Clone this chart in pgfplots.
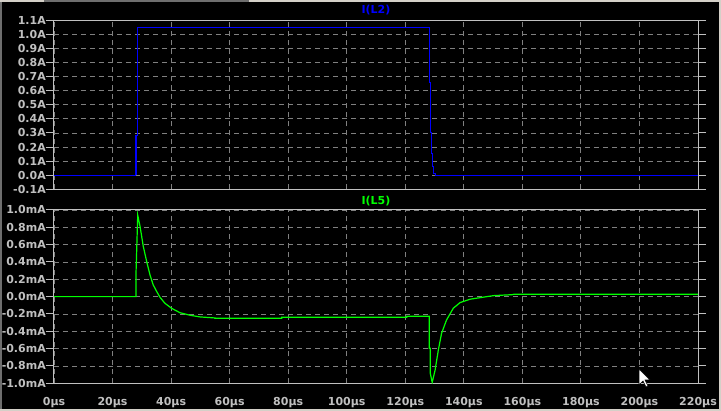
\documentclass[border=0pt]{standalone}
\usepackage{fontspec}
\setmainfont{DejaVu Sans}
\usepackage{pgfplots}
\pgfplotsset{compat=1.18}

\definecolor{framegray}{RGB}{192,192,192}
\definecolor{gridgray}{RGB}{128,128,128}
\definecolor{winbeige}{RGB}{212,208,200}
\definecolor{windark}{RGB}{110,110,110}
\definecolor{traceblue}{RGB}{0,0,255}
\definecolor{tracegreen}{RGB}{0,255,0}

\newcommand{\spicefont}{\bfseries\fontsize{11}{13}\selectfont}

\pgfplotsset{
  spice/.style={
    scale only axis, width=644pt,
    xmin=0, xmax=220,
    xtick={0,20,...,220},
    grid=major,
    major grid style={gridgray, dash pattern=on 5pt off 4pt, line width=0.9pt},
    axis line style={framegray, line width=1pt},
    tick align=outside, major tick length=8pt,
    y tick style={framegray, line width=1pt},
    x tick style={draw=none},
    tick label style={text=framegray, font=\spicefont},
    yticklabel style={inner xsep=0pt},
    xticklabel style={yshift=-2.5pt},
    clip=true,
  }
}

\begin{document}
\begin{tikzpicture}
% window background and frame
\fill[black] (0,0) rectangle (721pt,411pt);
\fill[winbeige] (0,409pt) rectangle (721pt,411pt);
\fill[windark] (44pt,409pt) rectangle (249pt,411pt);
\fill[windark] (0,0) rectangle (2pt,409pt);
\fill[winbeige] (0,0) rectangle (721pt,2pt);
\fill[winbeige] (719pt,0) rectangle (721pt,411pt);

% I(L2)
\begin{axis}[spice,
    at={(54pt,221.7pt)}, anchor=south west,
    height=169pt,
    ymin=-0.1, ymax=1.1,
    ytick={-0.1,0,0.1,0.2,0.3,0.4,0.5,0.6,0.7,0.8,0.9,1.0,1.1},
    yticklabels={-0.1A,0.0A,0.1A,0.2A,0.3A,0.4A,0.5A,0.6A,0.7A,0.8A,0.9A,1.0A,1.1A},
    xticklabel=\empty,
]
\addplot[traceblue, line width=1pt] coordinates {
    (0,0) (28.0,0) (28.0,0.28) (28.45,0.28) (28.45,1.05)
    (128.2,1.05) (128.2,0.655) (128.45,0.655) (128.45,0.30)
    (128.9,0.30) (128.9,0.155) (129.25,0.155) (129.25,0.06)
    (129.6,0.06) (129.6,0.01) (130.4,0.01) (130.4,0) (220,0)
};
\addplot[traceblue, line width=1.6pt] coordinates {(28.0,0) (28.0,0.28)};
\end{axis}

% I(L5)
\begin{axis}[spice,
    at={(54pt,27.7pt)}, anchor=south west,
    height=173.3pt,
    ymin=-1.0, ymax=1.0,
    ytick={-1.0,-0.8,-0.6,-0.4,-0.2,0,0.2,0.4,0.6,0.8,1.0},
    yticklabels={-1.0mA,-0.8mA,-0.6mA,-0.4mA,-0.2mA,0.0mA,0.2mA,0.4mA,0.6mA,0.8mA,1.0mA},
    xticklabels={0µs,20µs,40µs,60µs,80µs,100µs,120µs,140µs,160µs,180µs,200µs,220µs},
]
\addplot[tracegreen, line width=1.2pt] coordinates {
    (0,0) (28.0,0) (28.0,0.25) (28.6,0.94) (29.4,0.81) (30.5,0.58)
    (31.7,0.40) (32.8,0.25) (33.9,0.135) (35.1,0.058) (36.2,-0.007)
    (37.9,-0.077) (40.2,-0.135) (43.0,-0.185) (46.5,-0.215)
    (49.9,-0.234) (55.0,-0.246) (55.0,-0.25) (77.8,-0.25)
    (77.8,-0.238) (120.5,-0.238) (120.5,-0.226) (128.2,-0.226)
    (128.2,-0.595) (128.5,-0.595) (128.5,-0.877) (129.2,-0.99)
    (130.2,-0.846) (131.3,-0.615) (132.4,-0.423) (134.1,-0.269)
    (136.4,-0.134) (138.7,-0.069) (142.1,-0.03) (145.5,-0.012)
    (147.8,0.0) (150.3,0.012) (156.6,0.023) (157,0.027) (220,0.027)
};
\end{axis}

% trace names
\node[font=\spicefont, text=traceblue] at (376pt,400.5pt) {I(L2)};
\node[font=\spicefont, text=tracegreen] at (376pt,210pt) {I(L5)};

% mouse cursor
\filldraw[fill=white, draw=black, line width=0.6pt]
  (639pt,42pt) -- (639pt,26pt) -- (643pt,30pt) -- (646pt,24pt)
  -- (648pt,25pt) -- (645pt,31pt) -- (650pt,31pt) -- cycle;

\pgfresetboundingbox
\useasboundingbox (0,0) rectangle (721pt,411pt);
\end{tikzpicture}
\end{document}
